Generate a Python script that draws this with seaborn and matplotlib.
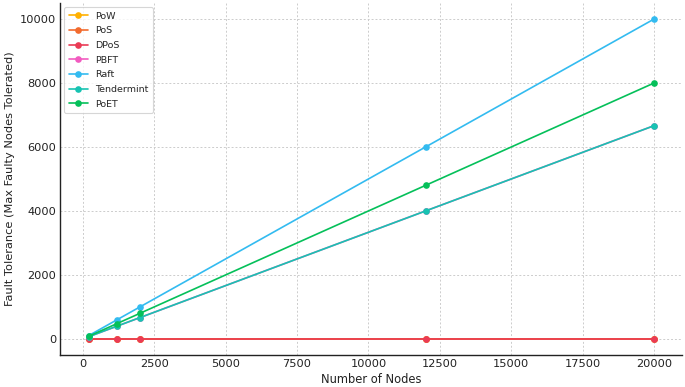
import pandas as pd
import matplotlib
matplotlib.use("Agg")
import matplotlib.pyplot as plt
import seaborn as sns

# Donnees
nodes = [200, 1200, 2000, 12000, 20000]
pow_ft = [0, 0, 0, 0, 0]
pos_ft = [0, 0, 0, 0, 0]
dpos_ft = [0, 0, 0, 0, 0]
pbft_ft = [66, 400, 666, 4000, 6666]
raft_ft = [100, 600, 1000, 6000, 10000]
tendermint_ft = [66, 400, 666, 4000, 6666]
poet_ft = [80, 480, 800, 4800, 8000]

protocols = ["PoW", "PoS", "DPoS", "PBFT", "Raft", "Tendermint", "PoET"]
series = [pow_ft, pos_ft, dpos_ft, pbft_ft, raft_ft, tendermint_ft, poet_ft]
colors = ["#FFB000", "#F26B2E", "#EA3B55", "#F25BC0", "#33BBF0", "#17C3B2", "#05C05A"]

rows = []
for name, vals in zip(protocols, series):
    for n, v in zip(nodes, vals):
        rows.append({"Nodes": n, "FT": v, "Protocol": name})
df = pd.DataFrame(rows)

sns.set_style("white")
plt.rcParams["font.family"] = ["DejaVu Sans"]

fig = plt.figure(figsize=(6.85, 3.87), dpi=100)
ax = fig.add_axes([0.088, 0.083, 0.908, 0.909])

sns.lineplot(data=df, x="Nodes", y="FT", hue="Protocol", hue_order=protocols,
             palette=colors, marker="o", markersize=4.8, markeredgewidth=0,
             linewidth=1.2, ax=ax)

ax.grid(True, linestyle=(0, (2, 2)), color="#cccccc", linewidth=0.7)
ax.set_axisbelow(True)
for s in ["top", "right"]:
    ax.spines[s].set_visible(False)
for s in ["left", "bottom"]:
    ax.spines[s].set_color("#222222")
    ax.spines[s].set_linewidth(1.0)
ax.tick_params(axis="both", labelsize=8.2, length=0, pad=2.8, labelcolor="#222222")
ax.set_xticks([0, 2500, 5000, 7500, 10000, 12500, 15000, 17500, 20000])
ax.set_yticks([0, 2000, 4000, 6000, 8000, 10000])
ax.set_xlabel("Number of Nodes", fontsize=8.3, labelpad=3, color="#222222")
ax.set_ylabel("Fault Tolerance (Max Faulty Nodes Tolerated)", fontsize=8.2,
              labelpad=4, color="#222222")

leg = ax.legend(loc="upper left", fontsize=6.8, frameon=True, title=None,
                borderpad=0.5, labelspacing=0.6, handlelength=2.0,
                borderaxespad=0.4)
leg.get_frame().set_edgecolor("#cccccc")
leg.get_frame().set_linewidth(0.8)

fig.savefig("out.png", dpi=100)
